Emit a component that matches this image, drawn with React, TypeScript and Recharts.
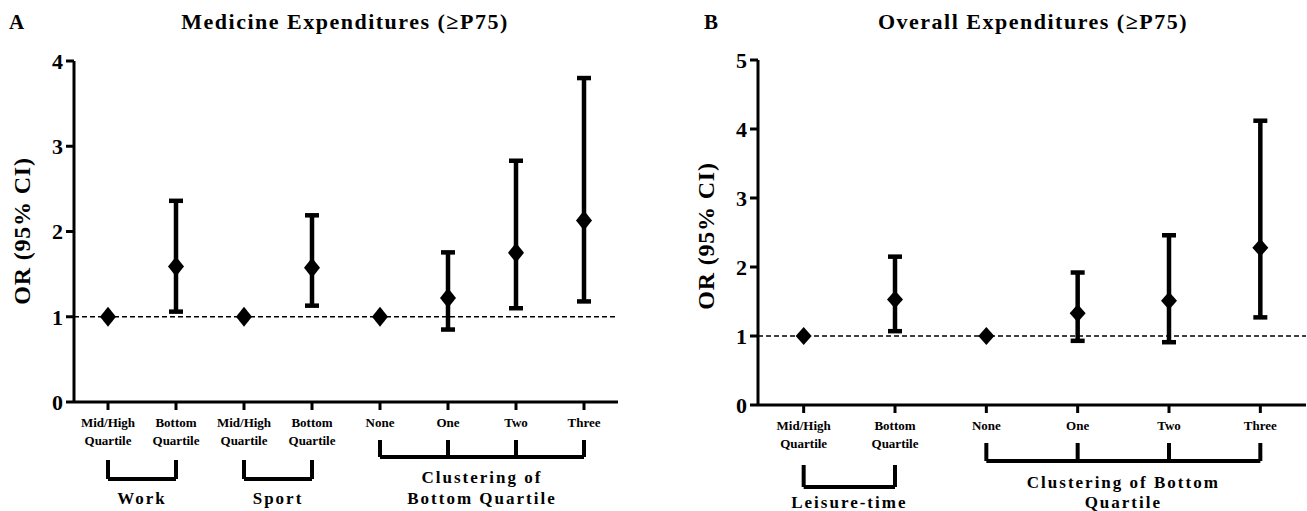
import React from 'react';
import { ComposedChart, Line, XAxis, YAxis, ErrorBar, ReferenceLine } from 'recharts';

const FONT = '"Liberation Serif", "Times New Roman", Times, serif';

// ---------- Panel A data ----------
const catsA = ['wMid', 'wBottom', 'sMid', 'sBottom', 'none', 'one', 'two', 'three'];
const labelsA = [
  ['Mid/High', 'Quartile'], ['Bottom', 'Quartile'], ['Mid/High', 'Quartile'], ['Bottom', 'Quartile'],
  ['None'], ['One'], ['Two'], ['Three'],
];
const orA = [1, 1.59, 1, 1.575, 1, 1.22, 1.75, 2.13];
const loA = [null, 1.06, null, 1.13, null, 0.85, 1.1, 1.18];
const hiA = [null, 2.36, null, 2.19, null, 1.755, 2.83, 3.8];
const ticksA = [0, 1, 2, 3, 4];

// ---------- Panel B data ----------
const catsB = ['lMid', 'lBottom', 'none', 'one', 'two', 'three'];
const labelsB = [
  ['Mid/High', 'Quartile'], ['Bottom', 'Quartile'], ['None'], ['One'], ['Two'], ['Three'],
];
const orB = [1, 1.53, 1, 1.33, 1.51, 2.28];
const loB = [null, 1.07, null, 0.93, 0.91, 1.27];
const hiB = [null, 2.15, null, 1.92, 2.46, 4.12];
const ticksB = [0, 1, 2, 3, 4, 5];

const build = (cats: string[], or: number[], lo: (number | null)[], hi: (number | null)[]) =>
  cats.map((c, i) => ({
    cat: c,
    or: or[i],
    err: lo[i] == null || hi[i] == null ? undefined : [or[i] - (lo[i] as number), (hi[i] as number) - or[i]],
  }));

type Group = { members: string[]; top: number; bot: number; lines: string[]; baselines: number[] };

type PanelProps = {
  left: number;
  width: number;
  plotTop: number;
  plotBottom: number;
  plotLeft: number;
  plotRight: number;
  yMax: number;
  ticks: number[];
  cats: string[];
  labels: string[][];
  data: any[];
  groups: Group[];
  dh: number;
  dv: number;
};

const Diamond = (hw: number, hh: number) => (p: any) => {
  const { cx, cy, index } = p;
  if (cx == null || cy == null) return <g key={index} />;
  return (
    <polygon
      key={index}
      points={`${cx},${cy - hh} ${cx + hw},${cy} ${cx},${cy + hh} ${cx - hw},${cy}`}
      fill="#000"
      stroke="none"
    />
  );
};

function Panel(props: PanelProps) {
  const { left, width, plotTop, plotBottom, plotLeft, plotRight, yMax, ticks, cats, labels, data, groups, dh, dv } = props;
  const height = 511;
  const yAxisW = 40;
  const xAxisH = 30;
  const margin = {
    top: plotTop,
    left: plotLeft - left - yAxisW,
    right: left + width - plotRight,
    bottom: height - plotBottom - xAxisH,
  };
  const toVal = (px: number) => (yMax * (plotBottom - px)) / (plotBottom - plotTop);
  const labelMap: Record<string, string[]> = {};
  cats.forEach((c, i) => (labelMap[c] = labels[i]));

  const renderTick = (p: any) => {
    const { x, payload } = p;
    const lines = labelMap[payload.value] || [];
    return (
      <text x={x} y={plotBottom + 10} textAnchor="middle" fontFamily={FONT} fontSize={13} fontWeight="bold" fill="#000">
        {lines.map((l, i) => (
          <tspan key={i} x={x} dy={i === 0 ? 15 : 18}>
            {l}
          </tspan>
        ))}
      </text>
    );
  };

  const groupEls: any[] = [];
  groups.forEach((g, gi) => {
    g.members.forEach((m, mi) => {
      groupEls.push(
        <ReferenceLine
          key={`v${gi}-${mi}`}
          segment={[{ x: m, y: toVal(g.top) }, { x: m, y: toVal(g.bot) }]}
          stroke="#000"
          strokeWidth={4}
          ifOverflow="visible"
        />
      );
    });
    const first = g.members[0];
    const last = g.members[g.members.length - 1];
    groupEls.push(
      <ReferenceLine
        key={`h${gi}`}
        segment={[{ x: first, y: toVal(g.bot) }, { x: last, y: toVal(g.bot) }]}
        stroke="#000"
        strokeWidth={4}
        ifOverflow="visible"
        label={(lp: any) => {
          const vb = lp.viewBox || {};
          const cx = vb.x + vb.width / 2;
          return (
            <text textAnchor="middle" fontFamily={FONT} fontSize={17} fontWeight="bold" letterSpacing={2} fill="#000">
              {g.lines.map((l, i) => (
                <tspan key={i} x={cx} y={g.baselines[i]}>
                  {l}
                </tspan>
              ))}
            </text>
          );
        }}
      />
    );
  });

  return (
    <div style={{ position: 'absolute', left, top: 0, width, height }}>
      <ComposedChart width={width} height={height} data={data} margin={margin}>
        <XAxis
          dataKey="cat"
          type="category"
          scale="band"
          height={xAxisH}
          interval={0}
          tick={renderTick}
          tickSize={8}
          axisLine={{ stroke: '#000', strokeWidth: 3 }}
          tickLine={{ stroke: '#000', strokeWidth: 3 }}
        />
        <YAxis
          type="number"
          domain={[0, yMax]}
          ticks={ticks}
          width={yAxisW}
          tickSize={8}
          tickMargin={3}
          allowDecimals={false}
          axisLine={{ stroke: '#000', strokeWidth: 3 }}
          tickLine={{ stroke: '#000', strokeWidth: 3 }}
          tick={{ fill: '#000', fontFamily: FONT, fontSize: 22, fontWeight: 'bold' }}
        />
        <ReferenceLine y={1} stroke="#000" strokeWidth={1.5} strokeDasharray="5 3" />
        {groupEls}
        <Line
          dataKey="or"
          stroke="none"
          isAnimationActive={false}
          dot={Diamond(dh, dv)}
          activeDot={false}
          legendType="none"
        >
          <ErrorBar dataKey="err" direction="y" width={7} stroke="#000" strokeWidth={4.5} isAnimationActive={false} />
        </Line>
      </ComposedChart>
    </div>
  );
}

export default function App() {
  const dataA = build(catsA, orA, loA, hiA);
  const dataB = build(catsB, orB, loB, hiB);
  const groupsA: Group[] = [
    { members: ['wMid', 'wBottom'], top: 460, bot: 479, lines: ['Work'], baselines: [504] },
    { members: ['sMid', 'sBottom'], top: 460, bot: 479, lines: ['Sport'], baselines: [504] },
    { members: ['none', 'one', 'two', 'three'], top: 440, bot: 457, lines: ['Clustering of', 'Bottom Quartile'], baselines: [483, 504] },
  ];
  const groupsB: Group[] = [
    { members: ['lMid', 'lBottom'], top: 465, bot: 487, lines: ['Leisure-time'], baselines: [508] },
    { members: ['none', 'one', 'two', 'three'], top: 443, bot: 461, lines: ['Clustering of Bottom', 'Quartile'], baselines: [488, 508] },
  ];
  return (
    <div style={{ position: 'absolute', left: 0, top: 0, width: 1307, height: 511, background: '#fff', overflow: 'hidden' }}>
      <Panel
        left={0}
        width={640}
        plotTop={61}
        plotBottom={402}
        plotLeft={74}
        plotRight={618}
        yMax={4}
        ticks={ticksA}
        cats={catsA}
        labels={labelsA}
        data={dataA}
        groups={groupsA}
        dh={8}
        dv={10}
      />
      <Panel
        left={680}
        width={627}
        plotTop={60}
        plotBottom={405}
        plotLeft={758}
        plotRight={1306}
        yMax={5}
        ticks={ticksB}
        cats={catsB}
        labels={labelsB}
        data={dataB}
        groups={groupsB}
        dh={8}
        dv={9}
      />
      <svg width={1307} height={511} style={{ position: 'absolute', left: 0, top: 0, pointerEvents: 'none' }}>
        <g fontFamily={FONT} fontWeight="bold" fill="#000">
          <text x={9} y={29} fontSize={21}>A</text>
          <text x={704} y={29} fontSize={21}>B</text>
          <text x={345} y={29} fontSize={22} letterSpacing={1.5} textAnchor="middle">Medicine Expenditures (≥P75)</text>
          <text x={1033} y={29} fontSize={22} letterSpacing={1.5} textAnchor="middle">Overall Expenditures (≥P75)</text>
          <text x={0} y={0} fontSize={24} letterSpacing={0.8} textAnchor="middle" transform="translate(30,231) rotate(-90)">OR (95% CI)</text>
          <text x={0} y={0} fontSize={24} letterSpacing={0.8} textAnchor="middle" transform="translate(714,236) rotate(-90)">OR (95% CI)</text>
        </g>
      </svg>
    </div>
  );
}
